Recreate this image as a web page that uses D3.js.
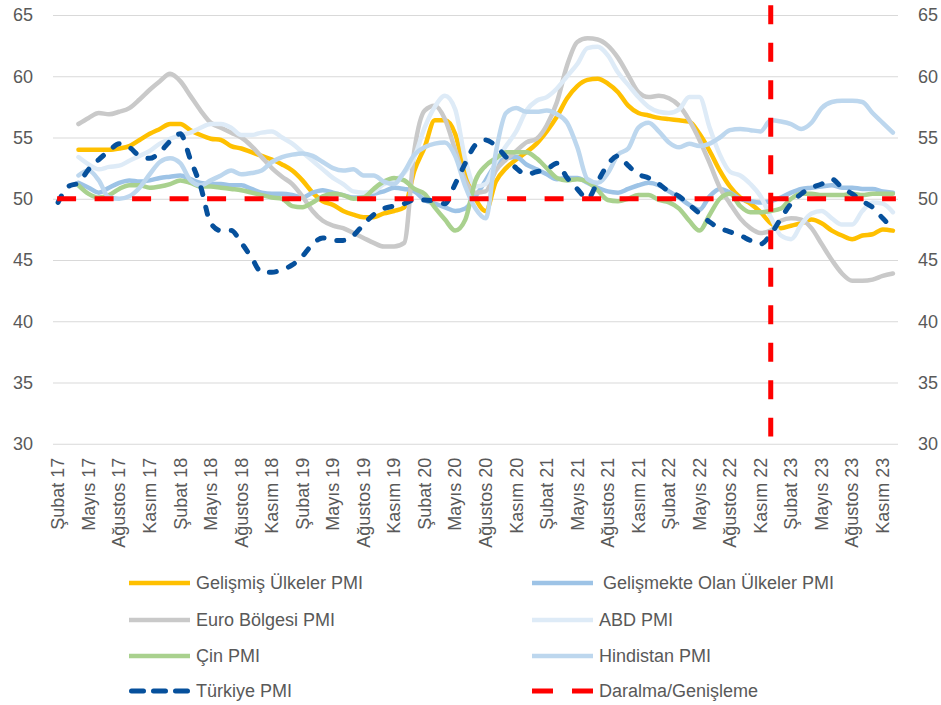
<!DOCTYPE html>
<html>
<head>
<meta charset="utf-8">
<script src="https://cdn.jsdelivr.net/npm/d3@7/dist/d3.min.js"></script>
<style>
  body { margin: 0; background: #fff; }
  text { font-family: "Liberation Sans", Arial, sans-serif; }
</style>
</head>
<body>
<div id="chart"></div>
<script>

// ############### DATA ###############

var monthNames = ['Ocak', 'Şubat', 'Mart', 'Nisan', 'Mayıs', 'Haziran', 'Temmuz', 'Ağustos', 'Eylül', 'Ekim', 'Kasım', 'Aralık'];

// Şubat 17 ... Aralık 23
var months = [];
for (var yr = 2017; yr <= 2023; yr++) {
    for (var m = 0; m < 12; m++) {
        if (yr === 2017 && m === 0) continue;
        months.push(monthNames[m] + ' ' + String(yr).slice(2));
    }
}
var tickLabels = months.filter((d, i) => i % 3 === 0);
var yTicks = [30, 35, 40, 45, 50, 55, 60, 65];

var gelismis = [null, null, 54.0, 54.0, 54.0, 54.0, 54.1, 54.3, 54.8, 55.3, 55.7, 56.1, 56.1, 55.6, 55.2, 54.9, 54.8, 54.3, 54.1, 53.8, 53.5, 53.2, 52.8, 52.3, 51.5, 50.5, 49.8, 49.5, 49.0, 48.7, 48.5, 48.5, 48.8, 49.0, 49.3, 52.3, 54.2, 56.4, 56.4, 55.3, 52.0, 50.0, 49.0, 51.4, 52.5, 53.2, 53.8, 54.5, 55.5, 56.7, 58.2, 59.2, 59.7, 59.8, 59.4, 58.7, 57.6, 57.0, 56.8, 56.6, 56.5, 56.4, 56.3, 55.3, 53.9, 52.3, 51.0, 50.1, 49.6, 48.9, 48.0, 47.6, 47.8, 48.0, 48.3, 48.0, 47.4, 47.0, 46.7, 47.0, 47.1, 47.5, 47.4];

var gelismekte = [null, null, 51.3, 50.9, 50.5, 50.9, 51.3, 51.5, 51.4, 51.5, 51.7, 51.8, 51.9, 51.6, 51.3, 51.2, 51.2, 51.1, 51.1, 50.8, 50.5, 50.4, 50.4, 50.3, 50.1, 50.5, 50.7, 50.5, 50.3, 50.1, 50.1, 50.4, 50.6, 50.9, 50.8, 50.6, 49.9, 49.6, 49.3, 49.0, 49.2, 50.2, 51.5, 52.8, 53.3, 53.4, 52.8, 52.4, 52.0, 51.6, 51.7, 51.7, 51.3, 50.9, 50.6, 50.5, 50.8, 51.1, 51.3, 51.1, 50.6, 50.1, 49.5, 49.1, 50.2, 50.8, 50.5, 50.0, 49.8, 49.7, 49.8, 50.1, 50.5, 50.8, 50.9, 51.0, 51.1, 50.9, 50.9, 50.8, 50.8, 50.6, 50.5];

var euro = [null, null, 56.1, 56.6, 57.0, 56.9, 57.1, 57.4, 58.1, 58.9, 59.6, 60.2, 59.6, 58.4, 57.2, 56.2, 55.8, 55.4, 55.0, 54.3, 53.4, 52.5, 51.8, 51.2, 50.2, 49.0, 48.2, 47.8, 47.6, 47.2, 46.8, 46.4, 46.1, 46.1, 46.4, 54.0, 57.2, 57.6, 56.5, 54.0, 51.5, 50.5, 50.6, 52.3, 53.2, 53.9, 54.6, 54.9, 56.0, 57.9, 60.9, 62.8, 63.1, 63.0, 62.5, 61.5, 60.1, 58.7, 58.3, 58.4, 58.2, 57.6, 56.4, 54.8, 52.9, 50.9, 49.6, 48.4, 47.6, 47.2, 47.4, 48.2, 48.4, 48.3, 47.6, 46.3, 45.0, 43.9, 43.3, 43.3, 43.4, 43.7, 43.9];

var abd = [null, null, 53.4, 52.8, 52.4, 52.6, 52.7, 53.1, 53.5, 53.9, 54.5, 54.9, 55.2, 55.4, 55.8, 56.1, 56.1, 55.8, 55.2, 55.2, 55.4, 55.5, 55.0, 54.5, 53.8, 53.1, 52.4, 51.7, 51.2, 50.6, 50.5, 50.6, 51.2, 51.5, 52.1, 53.4, 55.8, 57.5, 58.4, 57.3, 53.2, 51.0, 51.2, 53.0, 54.3, 55.5, 57.2, 58.0, 58.3, 59.0, 60.0, 61.0, 62.3, 62.4, 61.7, 60.3, 59.3, 58.3, 57.5, 57.1, 57.0, 57.3, 58.3, 58.3, 55.8, 53.6, 52.2, 51.9, 51.2, 50.2, 48.5, 47.0, 46.7, 47.9, 48.8, 49.0, 48.4, 47.9, 47.9, 49.0, 49.7, 49.6, 48.9];

var cin = [null, null, 51.1, 50.4, 50.1, 50.3, 50.8, 51.1, 51.1, 50.9, 51.0, 51.2, 51.5, 51.3, 51.0, 51.0, 50.9, 50.8, 50.7, 50.5, 50.3, 50.1, 50.0, 49.4, 49.3, 49.7, 50.2, 50.4, 50.3, 50.0, 50.1, 50.8, 51.4, 51.7, 51.5, 50.8, 50.4, 49.3, 48.3, 47.4, 48.3, 51.5, 52.7, 53.3, 53.8, 53.8, 53.8, 53.3, 52.5, 51.7, 51.5, 51.6, 51.4, 50.7, 49.9, 49.8, 50.0, 50.3, 50.3, 49.9, 49.7, 49.2, 48.2, 47.4, 48.7, 50.0, 50.4, 49.4, 48.9, 48.9, 49.0, 49.2, 50.0, 50.4, 50.4, 50.3, 50.3, 50.3, 50.4, 50.3, 50.4, 50.4, 50.4];

var hindistan = [null, null, 51.9, 52.3, 51.5, 50.1, 50.0, 50.2, 50.9, 52.0, 53.0, 53.3, 52.9, 51.5, 51.1, 51.5, 51.9, 52.3, 52.0, 52.1, 52.3, 53.0, 53.4, 53.6, 53.7, 53.5, 53.0, 52.5, 52.3, 52.4, 51.9, 51.9, 51.4, 51.2, 52.2, 53.6, 54.2, 54.5, 54.6, 53.5, 51.0, 49.2, 48.4, 53.8, 57.0, 57.4, 57.1, 57.1, 57.2, 56.9, 56.2, 54.2, 51.6, 51.3, 52.1, 53.6, 54.1, 55.8, 56.2, 55.5, 54.6, 54.2, 54.5, 54.3, 54.5, 55.0, 55.6, 55.7, 55.6, 55.5, 56.4, 56.3, 56.1, 55.7, 56.2, 57.4, 57.9, 58.0, 58.0, 57.9, 57.0, 56.2, 55.4];

var turkiye = [49.7, 51.0, 51.3, 52.4, 53.2, 53.9, 54.5, 54.2, 53.5, 53.3, 53.8, 54.7, 55.3, 53.2, 51.0, 48.0, 47.4, 47.4, 46.4, 45.2, 44.0, 44.0, 44.2, 44.6, 45.3, 46.3, 46.8, 46.6, 46.6, 47.0, 47.9, 48.7, 49.2, 49.4, 49.6, 49.9, 49.9, 49.8, 49.6, 51.2, 52.9, 54.4, 54.8, 54.3, 53.4, 52.5, 52.0, 52.2, 52.4, 52.9, 51.7, 50.8, 50.0, 51.4, 52.8, 53.5, 52.7, 52.0, 51.7, 51.2, 50.6, 50.2, 49.5, 48.8, 48.1, 47.6, 47.3, 47.0, 46.6, 46.3, 47.1, 48.4, 49.6, 50.4, 50.9, 51.2, 51.6, 50.9, 50.4, 49.8, 49.3, 48.4, 47.6];

var threshold = 50;             // Daralma/Genişleme
var markerMonth = 'Aralık 22';  // dikey çizgi
var markerRange = [30.6, 65.8];

var seriesNames = ['Gelişmiş Ülkeler PMI', 'Gelişmekte Olan Ülkeler PMI', 'Euro Bölgesi PMI', 'ABD PMI', 'Çin PMI', 'Hindistan PMI', 'Türkiye PMI', 'Daralma/Genişleme'];


// ############### CHART ###############

var attrs = {
    svgWidth: 941,
    svgHeight: 705,
    plotLeft: 53,
    plotRight: 898,
    plotTop: 15,
    plotBottom: 443.75,
    fontColor: '#595959',
    fontSize: 18
};

var series = [
    { name: seriesNames[0], values: gelismis, color: '#FFC000', width: 4.5 },
    { name: seriesNames[1], values: gelismekte, color: '#9DC3E6', width: 4.5 },
    { name: seriesNames[2], values: euro, color: '#C9C9C9', width: 4.5 },
    { name: seriesNames[3], values: abd, color: '#DEEBF7', width: 4.5 },
    { name: seriesNames[4], values: cin, color: '#A9D18E', width: 4.5 },
    { name: seriesNames[5], values: hindistan, color: '#BDD7EE', width: 4.5 },
    { name: seriesNames[6], values: turkiye, color: '#06509C', width: 5, dash: '7,13', legendDash: '12,10', cap: 'round' }
];

var svg = d3.select('#chart')
    .append('svg')
    .attr('width', attrs.svgWidth)
    .attr('height', attrs.svgHeight)
    .style('background', '#fff');

// scales
var x = d3.scaleBand()
    .domain(months)
    .range([attrs.plotLeft, attrs.plotRight]);

var cx = d => x(d) + x.bandwidth() / 2;

var y = d3.scaleLinear()
    .domain([30, 65])
    .range([attrs.plotBottom, attrs.plotTop]);

// left axis + gridlines
var leftAxis = svg.append('g')
    .attr('transform', 'translate(' + attrs.plotLeft + ',0)')
    .call(d3.axisLeft(y).tickValues(yTicks).tickSize(-(attrs.plotRight - attrs.plotLeft)).tickPadding(20));

leftAxis.select('.domain').remove();
leftAxis.selectAll('line').attr('stroke', '#D9D9D9').attr('stroke-width', 1);
leftAxis.selectAll('text')
    .attr('fill', attrs.fontColor)
    .style('font-size', attrs.fontSize + 'px')
    .style('font-family', '"Liberation Sans", Arial, sans-serif');

// right axis
var rightAxis = svg.append('g')
    .attr('transform', 'translate(' + attrs.plotRight + ',0)')
    .call(d3.axisRight(y).tickValues(yTicks).tickSize(0).tickPadding(20));

rightAxis.select('.domain').remove();
rightAxis.selectAll('text')
    .attr('fill', attrs.fontColor)
    .style('font-size', attrs.fontSize + 'px')
    .style('font-family', '"Liberation Sans", Arial, sans-serif');

// x axis, rotated labels
var xAxis = svg.append('g')
    .attr('transform', 'translate(0,' + attrs.plotBottom + ')')
    .call(d3.axisBottom(x).tickValues(tickLabels).tickSize(0));

xAxis.select('.domain').remove();
xAxis.selectAll('text')
    .attr('transform', 'rotate(-90)')
    .attr('x', -14)
    .attr('y', 0)
    .attr('dy', '0.35em')
    .style('text-anchor', 'end')
    .attr('fill', attrs.fontColor)
    .style('font-size', attrs.fontSize + 'px')
    .style('font-family', '"Liberation Sans", Arial, sans-serif');

// ############### LINES ###############

var line = d3.line()
    .defined(d => d != null)
    .x((d, i) => cx(months[i]))
    .y(d => y(d))
    .curve(d3.curveMonotoneX);

var lines = svg.append('g');

lines.selectAll('path.series')
    .data(series)
    .enter()
    .append('path')
    .attr('class', 'series')
    .attr('d', d => line(d.values))
    .attr('fill', 'none')
    .attr('stroke', d => d.color)
    .attr('stroke-width', d => d.width)
    .attr('stroke-linejoin', 'round')
    .attr('stroke-linecap', d => d.cap || 'round')
    .attr('stroke-dasharray', d => d.dash || null);

// threshold line (50)
lines.append('line')
    .attr('x1', cx(months[0]) - 1)
    .attr('x2', cx(months[months.length - 1]) + 3)
    .attr('y1', y(threshold))
    .attr('y2', y(threshold))
    .attr('stroke', '#FF0000')
    .attr('stroke-width', 5)
    .attr('stroke-dasharray', '19,18.5');

// vertical marker
lines.append('line')
    .attr('x1', cx(markerMonth))
    .attr('x2', cx(markerMonth))
    .attr('y1', y(markerRange[1]))
    .attr('y2', y(markerRange[0]))
    .attr('stroke', '#FF0000')
    .attr('stroke-width', 5)
    .attr('stroke-dasharray', '19,18.5');

// ############### LEGEND ###############

var legendItems = series.map(d => ({ name: d.name, color: d.color, dash: d.legendDash || null, cap: d.cap || 'butt', width: d.width }))
    .concat([{ name: seriesNames[7], color: '#FF0000', dash: '21,19', cap: 'butt', width: 5 }]);

var legendCols = [129, 532];
var legendRows = [583, 620, 656, 691];

var legend = svg.append('g')
    .selectAll('g')
    .data(legendItems)
    .enter()
    .append('g')
    .attr('transform', (d, i) => 'translate(' + legendCols[i % 2] + ',' + legendRows[Math.floor(i / 2)] + ')');

legend.append('line')
    .attr('x1', d => d.cap === 'round' ? 2.5 : 0)
    .attr('x2', d => d.cap === 'round' ? 58.5 : 61)
    .attr('stroke', d => d.color)
    .attr('stroke-width', d => d.width)
    .attr('stroke-linecap', d => d.cap)
    .attr('stroke-dasharray', d => d.dash);

legend.append('text')
    .attr('x', (d, i) => i === 1 ? 71 : 67)
    .attr('dy', '0.35em')
    .attr('fill', attrs.fontColor)
    .style('font-size', attrs.fontSize + 'px')
    .text(d => d.name);

</script>
</body>
</html>
